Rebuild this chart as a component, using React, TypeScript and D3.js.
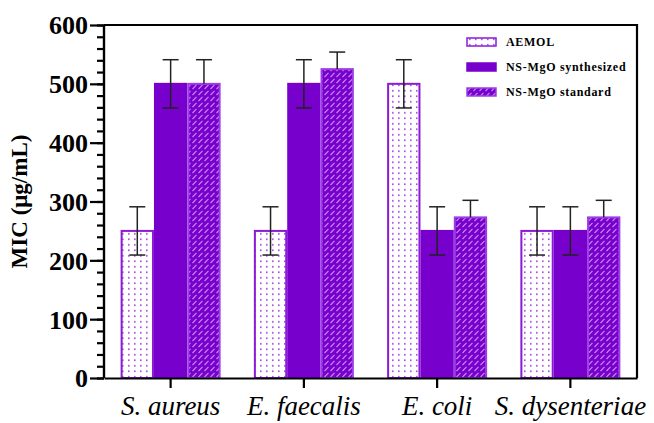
import * as d3 from "d3";
import React, { useEffect, useRef } from "react";

const categories = ["S. aureus", "E. faecalis", "E. coli", "S. dysenteriae"];
const seriesNames = ["AEMOL", "NS-MgO synthesized", "NS-MgO standard"];
const aemol = [250, 250, 500, 250];
const aemolErr = [41, 41, 41, 41];
const synthesized = [500, 500, 250, 250];
const synthesizedErr = [41, 41, 41, 41];
const standard = [500, 525, 273, 273];
const standardErr = [41, 29, 29, 29];
const yTicks = [0, 100, 200, 300, 400, 500, 600];

const PURPLE = "#7800cc";
const SERIF = "'Liberation Serif', 'Times New Roman', Times, 'DejaVu Serif', serif";

export default function App() {
   const ref = useRef<SVGSVGElement>(null);

   useEffect(() => {
      const width = 654;
      const height = 423;
      const margin = { top: 25, right: 17, bottom: 45, left: 104 };

      const svg = d3.select(ref.current);
      svg.selectAll("*").remove();
      svg.attr("width", width).attr("height", height).style("font-family", SERIF);

      // patterns for the three series
      const defs = svg.append("defs");
      const dots = defs
         .append("pattern")
         .attr("id", "dots")
         .attr("patternUnits", "userSpaceOnUse")
         .attr("width", 6)
         .attr("height", 5.5);
      dots.append("rect").attr("width", 6).attr("height", 5.5).attr("fill", "#fff");
      dots.append("rect").attr("x", 2).attr("y", 2).attr("width", 1.6).attr("height", 1.6).attr("fill", "#a040e0");

      const hatch = defs
         .append("pattern")
         .attr("id", "hatch")
         .attr("patternUnits", "userSpaceOnUse")
         .attr("width", 6)
         .attr("height", 6);
      hatch.append("rect").attr("width", 6).attr("height", 6).attr("fill", PURPLE);
      hatch
         .append("path")
         .attr("d", "M0.5,5 L4.5,0.8")
         .attr("stroke", "#c88cf2")
         .attr("stroke-width", 1.1);

      const x = d3
         .scaleBand()
         .domain(categories)
         .range([margin.left, width - margin.right]);
      const y = d3
         .scaleLinear()
         .domain([0, 600])
         .range([height - margin.bottom, margin.top]);
      const groupW = 100;
      const x1 = d3.scaleBand().domain(seriesNames).range([-groupW / 2, groupW / 2]);

      const series = [
         { name: seriesNames[0], values: aemol, errs: aemolErr, fill: "url(#dots)", stroke: "#8a1ad8", both: true },
         { name: seriesNames[1], values: synthesized, errs: synthesizedErr, fill: PURPLE, stroke: PURPLE, both: true },
         { name: seriesNames[2], values: standard, errs: standardErr, fill: "url(#hatch)", stroke: "#9c3ee6", both: false },
      ];

      const g = svg.append("g");
      series.forEach((s) => {
         g.selectAll(null)
            .data(categories)
            .join("rect")
            .attr("x", (c) => x(c)! + x.bandwidth() / 2 + x1(s.name)! + 1)
            .attr("y", (c, i) => y(s.values[i]))
            .attr("width", x1.bandwidth() - 2)
            .attr("height", (c, i) => y(0) - y(s.values[i]))
            .attr("fill", s.fill)
            .attr("stroke", s.stroke)
            .attr("stroke-width", 2);
      });

      // error bars
      series.forEach((s) => {
         categories.forEach((c, i) => {
            const cx = x(c)! + x.bandwidth() / 2 + x1(s.name)! + x1.bandwidth() / 2;
            const top = y(s.values[i] + s.errs[i]);
            const bot = s.both ? y(s.values[i] - s.errs[i]) : y(s.values[i]);
            const eg = g.append("g").attr("stroke", "#222").attr("stroke-width", 1.5);
            eg.append("line").attr("x1", cx).attr("x2", cx).attr("y1", top).attr("y2", bot);
            eg.append("line").attr("x1", cx - 8).attr("x2", cx + 8).attr("y1", top).attr("y2", top);
            if (s.both) eg.append("line").attr("x1", cx - 8).attr("x2", cx + 8).attr("y1", bot).attr("y2", bot);
         });
      });

      // frame
      svg.append("path")
         .attr("d", `M${margin.left},${margin.top}H${width - margin.right}V${height - margin.bottom}`)
         .attr("fill", "none")
         .attr("stroke", "#000")
         .attr("stroke-width", 2.2);

      // y axis: minor then major
      const yMinor = d3
         .axisLeft(y)
         .tickValues(d3.range(0, 601, 20))
         .tickSize(7)
         .tickFormat(() => "");
      const yAxisMinor = svg.append("g").attr("transform", `translate(${margin.left},0)`).call(yMinor);
      const yMajor = d3.axisLeft(y).tickValues(yTicks).tickSize(14).tickPadding(2).tickFormat(d3.format("d"));
      const yAxis = svg.append("g").attr("transform", `translate(${margin.left},0)`).call(yMajor);
      [yAxisMinor, yAxis].forEach((a) => {
         a.attr("font-family", null);
         a.selectAll("path, line").attr("stroke", "#000").attr("stroke-width", 2.2);
         a.select(".domain").attr("d", `M0,${y(0)}V${y(600)}`);
      });
      yAxis
         .selectAll("text")
         .attr("font-weight", "bold")
         .attr("font-size", 26)
         .attr("dy", "0.34em")
         .attr("fill", "#000");

      // x axis
      const xAxis = svg
         .append("g")
         .attr("transform", `translate(0,${height - margin.bottom})`)
         .call(d3.axisBottom(x).tickSize(10).tickPadding(8).tickSizeOuter(0));
      xAxis.attr("font-family", null);
      xAxis.selectAll("path, line").attr("stroke", "#000").attr("stroke-width", 2.2);
      xAxis
         .selectAll("text")
         .attr("font-style", "italic")
         .attr("font-size", 27)
         .attr("fill", "#000");

      // y title
      svg.append("text")
         .attr("transform", `translate(27,${(y(0) + y(600)) / 2}) rotate(-90)`)
         .attr("text-anchor", "middle")
         .attr("font-weight", "bold")
         .attr("font-size", 23)
         .text("MIC (μg/mL)");

      // legend
      const legend = svg.append("g").attr("transform", "translate(467,42)");
      series.forEach((s, i) => {
         const row = legend.append("g").attr("transform", `translate(0,${i * 25})`);
         row.append("rect")
            .attr("x", 0)
            .attr("y", -4)
            .attr("width", 29)
            .attr("height", 8)
            .attr("fill", s.fill)
            .attr("stroke", s.stroke)
            .attr("stroke-width", 1.5);
         row.append("text")
            .attr("x", 39)
            .attr("y", 4)
            .attr("font-weight", "bold")
            .attr("font-size", 12)
            .attr("letter-spacing", 0.7)
            .text(s.name);
      });
   }, []);

   return (
      <svg ref={ref} style={{ position: "absolute", left: 0, top: 0, background: "#fff" }}></svg>
   );
}
